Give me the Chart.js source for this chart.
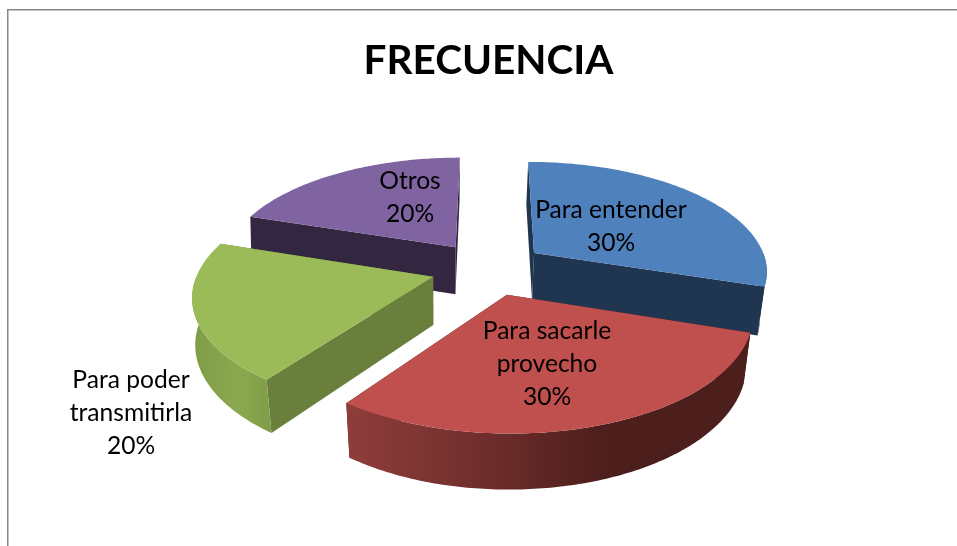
<!DOCTYPE html>
<html>
<head>
<meta charset="utf-8">
<style>html,body{margin:0;padding:0;background:#fff}canvas{display:block}</style>
<script src="https://cdn.jsdelivr.net/npm/chart.js@4"></script>
</head>
<body>
<canvas id="c" width="957" height="546"></canvas>
<script>
const chartTitle = 'FRECUENCIA';
const categories = ['Para entender', 'Para sacarle provecho', 'Para poder transmitirla', 'Otros'];
const values = [30, 30, 20, 20];
const labelLines = [['Para entender'], ['Para sacarle', 'provecho'], ['Para poder', 'transmitirla'], ['Otros']];
const topColors = ['#4f81bd', '#c0504d', '#9bbb59', '#8064a2'];
const cutColors = ['#1f3550', '#4c1e1c', '#6a7f3c', '#332641'];
const wallStops = [
  [[0, '#1f3550'], [1, '#1f3550']],
  [[0, '#8f3d3a'], [0.3, '#73302e'], [0.65, '#4c1e1c'], [1, '#4c1e1c']],
  [[0, '#7f9c47'], [0.6, '#8aa94f'], [1, '#7f9c47']],
  [[0, '#332641'], [1, '#332641']]
];
const labelCentres = [[611, 210], [547, 331], [131, 380], [410, 181]];
const paintOrder = [3, 0, 2, 1];

const TILT = 0.47, PERSP = 0.00065, XS = 1.009, VX = 445, D0 = 13, D1 = 35;

const frame = {
  id: 'frame',
  beforeDraw(chart) {
    const c = chart.ctx;
    c.save();
    c.fillStyle = '#fff';
    c.fillRect(0, 0, 957, 546);
    c.fillStyle = '#868686';
    c.fillRect(7, 9, 950, 1.5);
    c.fillRect(7, 9, 1.5, 537);
    c.restore();
  }
};

const pie3d = {
  id: 'pie3d',
  beforeDatasetsDraw(chart) {
    const c = chart.ctx, meta = chart.getDatasetMeta(0);
    paintOrder.forEach(i => {
      const a = meta.data[i], R = a.outerRadius, cx = a.x, cy = a.y, d = a.options.offset;
      const mid = (a.startAngle + a.endAngle) / 2;
      const ox = Math.cos(mid) * d, oy = Math.sin(mid) * d;
      const top = (ang, r) => {
        const gx = ox + Math.cos(ang) * r, gy = oy + Math.sin(ang) * r;
        const s = 1 / (1 - PERSP * gy);
        return [cx + XS * gx * s, cy + TILT * gy * s, s];
      };
      const bot = (ang, r) => {
        const p = top(ang, r);
        const f = p[0] > VX ? 0.022 : 0.006 + 0.13 * Math.max(0, p[2] - 0.99);
        return [p[0] + (VX - p[0]) * f, p[1] + D0 + D1 * p[2]];
      };
      const poly = (pts, fill) => {
        c.beginPath();
        pts.forEach((p, k) => k ? c.lineTo(p[0], p[1]) : c.moveTo(p[0], p[1]));
        c.closePath();
        c.fillStyle = fill;
        c.fill();
      };
      const arc = (fn, from, to) => {
        const out = [], n = Math.max(2, Math.ceil(Math.abs(to - from) / 0.015));
        for (let k = 0; k <= n; k++) out.push(fn(from + (to - from) * k / n, R));
        return out;
      };
      // cut faces
      [a.startAngle, a.endAngle].forEach(ang => {
        poly([top(ang, 0), top(ang, R), bot(ang, R), bot(ang, 0)], cutColors[i]);
      });
      // outer wall, only the part that faces the viewer
      const from = Math.max(a.startAngle, 0), to = Math.min(a.endAngle, Math.PI);
      if (to > from) {
        const t = arc(top, from, to), b = arc(bot, from, to);
        const xs = t.concat(b).map(p => p[0]);
        const g = c.createLinearGradient(Math.min(...xs), 0, Math.max(...xs), 0);
        wallStops[i].forEach(s => g.addColorStop(s[0], s[1]));
        poly(t.concat(b.reverse()), g);
      }
      // top face
      poly([top(a.startAngle, 0)].concat(arc(top, a.startAngle, a.endAngle)), topColors[i]);
    });
    return false;
  },
  afterDraw(chart) {
    const c = chart.ctx, total = values.reduce((p, v) => p + v, 0);
    c.save();
    c.font = '24.6px Lato';
    c.fillStyle = '#000';
    c.textAlign = 'center';
    c.textBaseline = 'middle';
    categories.forEach((_, i) => {
      const lines = labelLines[i].concat([Math.round(values[i] / total * 100) + '%']);
      lines.forEach((t, k) => c.fillText(t, labelCentres[i][0], labelCentres[i][1] + k * 32.8));
    });
    c.restore();
  }
};

new Chart(document.getElementById('c'), {
  type: 'pie',
  data: {
    labels: categories,
    datasets: [{ data: values, backgroundColor: topColors, borderWidth: 0, offset: 57, radius: 232, hoverOffset: 0 }]
  },
  options: {
    responsive: false,
    animation: false,
    layout: { padding: { left: 20, bottom: 95 } },
    events: [],
    plugins: {
      legend: { display: false },
      tooltip: { enabled: false },
      title: {
        display: true,
        text: chartTitle,
        color: '#000',
        font: { family: 'Lato', size: 40.5, weight: 'bold', lineHeight: 1.2 },
        padding: { top: 37, bottom: 0 }
      }
    }
  },
  plugins: [frame, pie3d]
});
</script>
</body>
</html>
